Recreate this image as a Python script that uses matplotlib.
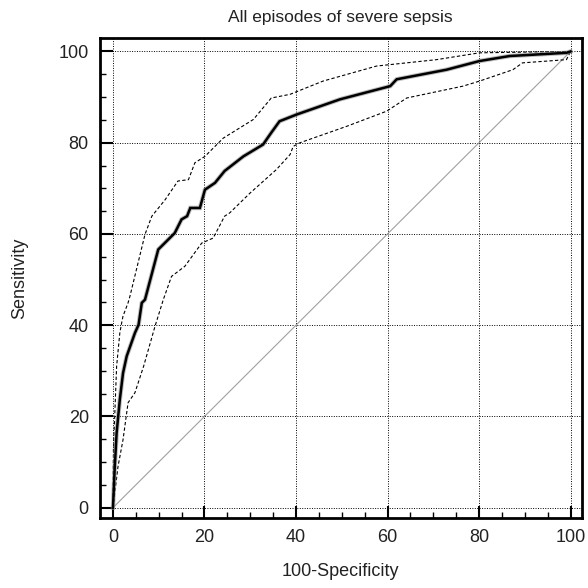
import matplotlib.pyplot as plt
import matplotlib as mpl

plt.rcParams['font.family'] = ['Liberation Sans', 'DejaVu Sans']

# ROC curve (100-specificity, sensitivity)
roc_x = [0, 0.4, 0.8, 1.5, 2.2, 3.0, 4.8, 5.6, 6.3, 7.0, 9.9, 13.5, 15.0, 16.2, 16.9,
         19.0, 20.1, 22.3, 24.4, 28.5, 32.8, 34.6, 36.4, 40.2, 49.6, 60.6, 62.0,
         72.9, 80.1, 86.7, 99.1, 100]
roc_y = [0, 9.0, 16.4, 23.7, 29.5, 33.2, 38.3, 40.1, 44.9, 45.6, 56.6, 60.2, 63.2,
         63.9, 65.7, 65.7, 69.7, 71.2, 73.8, 77.0, 79.6, 82.2, 84.7, 86.2, 89.5,
         92.4, 93.9, 96.0, 97.9, 99.0, 99.7, 100]

# upper 95% confidence bound
up_x = [0, 0.1, 0.8, 1.5, 1.9, 2.2, 3.3, 3.7, 7.0, 8.5, 11.4, 14.2, 16.5, 17.9, 20.1,
        24.1, 30.7, 34.6, 38.7, 45.9, 57.6, 70.7, 80.1, 100]
up_y = [0, 12.7, 31.0, 38.3, 40.5, 42.0, 44.9, 46.3, 59.9, 63.9, 67.5, 71.6, 71.9,
        75.6, 77.0, 81.0, 85.1, 89.8, 90.6, 93.5, 96.8, 98.2, 99.7, 100]

# lower 95% confidence bound
lo_x = [0, 1.1, 2.2, 3.3, 4.8, 6.7, 9.2, 11.0, 12.8, 15.7, 19.4, 21.9, 24.4, 25.5,
        30.0, 35.7, 38.7, 39.4, 40.9, 51.1, 59.8, 64.2, 76.5, 80.1, 87.4, 89.5,
        99.1, 100]
lo_y = [0, 9.0, 14.9, 23.0, 25.2, 31.0, 39.8, 45.6, 50.7, 52.9, 58.0, 59.1, 63.9,
        64.6, 69.0, 74.1, 77.4, 79.2, 80.0, 83.6, 86.9, 89.8, 92.4, 93.5, 96.0,
        97.5, 98.2, 100]

ticks = [0, 20, 40, 60, 80, 100]

fig = plt.figure(figsize=(5.88, 5.88), dpi=100)
ax = fig.add_axes([0.170, 0.119, 0.819, 0.816])

ax.plot([0, 100], [0, 100], color='#a0a0a0', lw=0.8, zorder=2)
ax.plot(up_x, up_y, color='black', lw=0.8, ls=(0, (3, 2)), zorder=3)
ax.plot(lo_x, lo_y, color='black', lw=0.8, ls=(0, (3, 2)), zorder=3)
ax.plot(roc_x, roc_y, color='#909090', lw=3.2, alpha=0.6, zorder=4, solid_joinstyle='miter')
ax.plot(roc_x, roc_y, color='black', lw=1.8, zorder=5, solid_joinstyle='miter')

ax.set_xlim(-2.84, 102.4)
ax.set_ylim(-2.26, 102.9)
ax.set_xticks(ticks)
ax.set_yticks(ticks)
ax.xaxis.set_minor_locator(mpl.ticker.MultipleLocator(5))
ax.yaxis.set_minor_locator(mpl.ticker.MultipleLocator(5))
ax.tick_params(which='major', direction='in', length=9, width=1.5, labelsize=13, pad=8,
               colors='black', labelcolor='#222222')
ax.tick_params(which='minor', direction='in', length=4, width=1)
ax.grid(True, which='major', color='black', lw=0.7, ls=(0, (1, 1.5)))
ax.set_axisbelow(True)
for s in ax.spines.values():
    s.set_linewidth(2)

ax.set_title('All episodes of severe sepsis', fontsize=12.5, pad=12, color='#222222')
ax.set_xlabel('100-Specificity', fontsize=13, labelpad=12, color='#222222')
ax.set_ylabel('Sensitivity', fontsize=13, labelpad=22, color='#222222')

fig.savefig('out.png', dpi=100)
